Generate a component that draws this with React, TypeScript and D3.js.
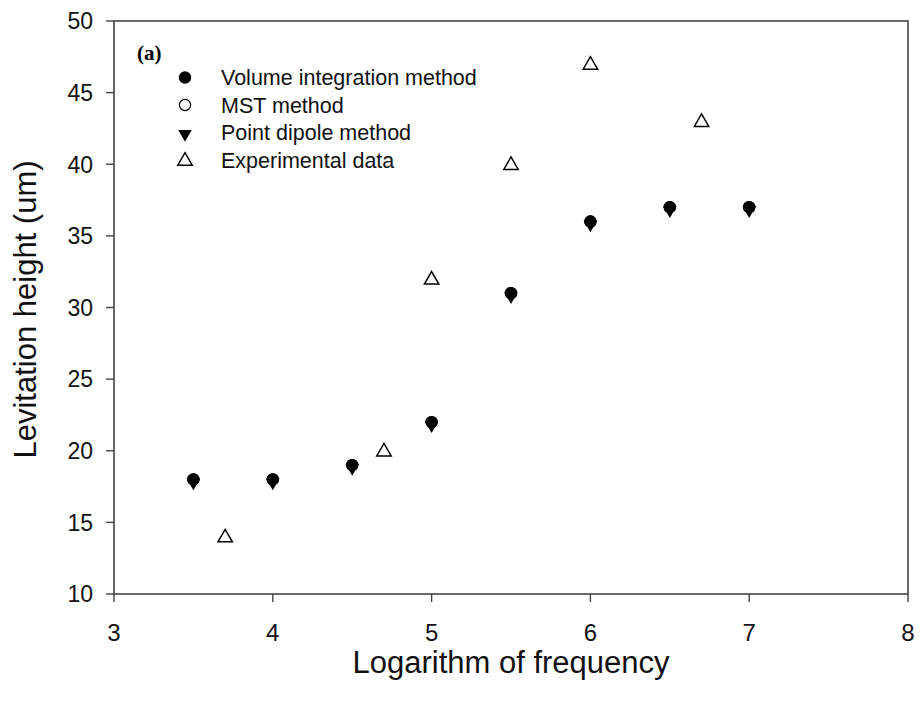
import React from "react";
import * as d3 from "d3";

const freqSim = [3.5, 4, 4.5, 5, 5.5, 6, 6.5, 7];
const volumeIntegration = [18, 18, 19, 22, 31, 36, 37, 37];
const mstMethod = [18, 18, 19, 22, 31, 36, 37, 37];
const pointDipole = [17.9, 17.9, 18.9, 21.9, 30.9, 35.9, 36.9, 36.9];
const freqExp = [3.7, 4.7, 5, 5.5, 6, 6.7];
const experimental = [14, 20, 32, 40, 47, 43];
const xTicks = [3, 4, 5, 6, 7, 8];
const yTicks = [10, 15, 20, 25, 30, 35, 40, 45, 50];
const legendLabels = ["Volume integration method", "MST method", "Point dipole method", "Experimental data"];

const W = 920, H = 704;
const L = 114, R = 908, T = 21, B = 594;

export default function App() {
  const x = d3.scaleLinear().domain([3, 8]).range([L, R]);
  const y = d3.scaleLinear().domain([10, 50]).range([B, T]);
  const font = "Liberation Sans, Arial, sans-serif";
  const tri = d3.symbol().type(d3.symbolTriangle).size(80)();
  const triUp = d3.symbol().type(d3.symbolTriangle).size(90)();

  const marker = (k: number, cx: number, cy: number, key: string) => {
    if (k === 0) return <circle key={key} cx={cx} cy={cy} r={6.2} fill="#000" />;
    if (k === 1) return <circle key={key} cx={cx} cy={cy} r={5.6} fill="none" stroke="#000" strokeWidth={1.2} />;
    if (k === 2) return <path key={key} d={tri!} transform={`translate(${cx},${cy + 1.5}) rotate(180)`} fill="#000" />;
    return <path key={key} d={triUp!} transform={`translate(${cx},${cy + 1})`} fill="#fff" stroke="#000" strokeWidth={1.5} />;
  };

  return (
    <svg width={W} height={H} style={{ position: "absolute", left: 0, top: 0, background: "#fff" }}>
      <rect x={0} y={0} width={W} height={H} fill="#fff" />
      <rect x={L} y={T} width={R - L} height={B - T} fill="none" stroke="#444" strokeWidth={1.6} />
      {yTicks.map((t) => (
        <g key={"y" + t}>
          <line x1={L - 8} x2={L} y1={y(t)} y2={y(t)} stroke="#444" strokeWidth={1.4} />
          <text x={L - 21} y={y(t)} dy="0.36em" textAnchor="end" fontFamily={font} fontSize={23} fill="#111">{t}</text>
        </g>
      ))}
      {xTicks.map((t) => (
        <g key={"x" + t}>
          <line x1={x(t)} x2={x(t)} y1={B} y2={B + 8} stroke="#444" strokeWidth={1.4} />
          <text x={x(t)} y={B + 47} textAnchor="middle" fontFamily={font} fontSize={24} fill="#111">{t}</text>
        </g>
      ))}
      <text x={(L + R) / 2} y={673} textAnchor="middle" fontFamily={font} fontSize={31} fill="#111">Logarithm of frequency</text>
      <text transform={`translate(36,${(T + B) / 2 + 2}) rotate(-90)`} textAnchor="middle" fontFamily={font} fontSize={31} fill="#111">Levitation height (um)</text>
      {freqSim.map((f, i) => marker(0, x(f), y(volumeIntegration[i]), "v" + i))}
      {freqSim.map((f, i) => marker(1, x(f), y(mstMethod[i]), "m" + i))}
      {freqSim.map((f, i) => marker(2, x(f), y(pointDipole[i]), "p" + i))}
      {freqExp.map((f, i) => marker(3, x(f), y(experimental[i]), "e" + i))}
      <text x={137} y={60} fontFamily="Liberation Serif, Times New Roman, serif" fontWeight="bold" fontSize={21} fill="#000">(a)</text>
      {legendLabels.map((lab, k) => (
        <g key={"l" + k}>
          {marker(k, 185, 77.5 + k * 27.5, "lm" + k)}
          <text x={221} y={77.5 + k * 27.5} dy="0.36em" fontFamily={font} fontSize={21.5} fill="#111">{lab}</text>
        </g>
      ))}
    </svg>
  );
}
